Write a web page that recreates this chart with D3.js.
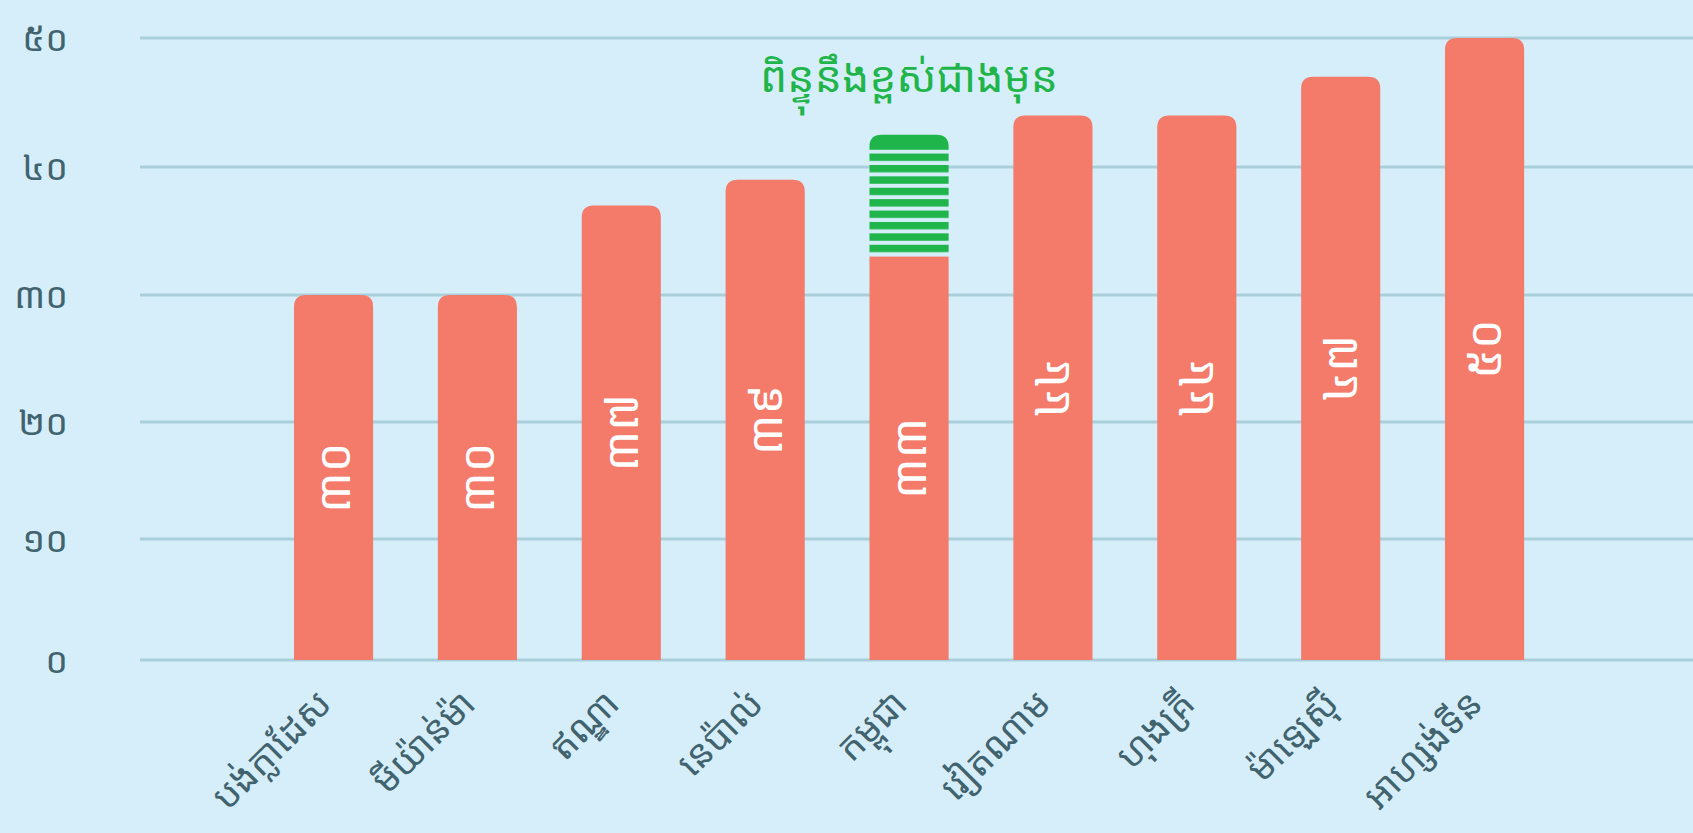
<!DOCTYPE html>
<html>
<head>
<meta charset="utf-8">
<script src="https://cdn.jsdelivr.net/npm/d3@7"></script>
<style>
  body { margin: 0; background: #d6eefa; }
  svg { display: block; }
  text { font-family: "Noto Sans Khmer", "Khmer OS", "Noto Sans", sans-serif; }
</style>
</head>
<body>
<div id="root"></div>
<script>
// data
var categories = ["បង់ក្លាដែស", "មីយ៉ាន់ម៉ា", "ឥណ្ឌា", "នេប៉ាល់", "កម្ពុជា", "វៀតណាម", "ហុងគ្រី", "ម៉ាឡេស៊ី", "អាហ្សង់ទីន"];
var values = [30, 30, 37, 39, 33, 44, 44, 47, 50];
var projected = [null, null, null, null, 42.5, null, null, null, null];
var yTicks = [0, 10, 20, 30, 40, 50];
var note = "ពិន្ទុនឹងខ្ពស់ជាងមុន";

var khmerDigits = "០១២៣៤៥៦៧៨៩";
function khmer(n) {
    return String(n).split("").map(function(c) { return khmerDigits[+c]; }).join("");
}

var W = 1693, H = 833;
var config = {
    "barColor": "#f47a6a",
    "green": "#1fb54a",
    "grid": "#a9cfdb",
    "text": "#41636e",
    "radius": 12
};

var svg = d3.select("#root").append("svg")
    .attr("width", W)
    .attr("height", H);

svg.append("rect").attr("width", W).attr("height", H).attr("fill", "#d6eefa");

// y scale follows the gridline spacing seen in the picture
var y = d3.scaleLinear()
    .domain(yTicks)
    .range([660, 539, 422, 295, 167, 38]);

var x = d3.scaleBand()
    .domain(categories)
    .range([261.6, 1556.5])
    .paddingInner(0.45)
    .paddingOuter(0.225);

// gridlines
svg.append("g").selectAll("line")
    .data(yTicks)
    .enter().append("line")
    .attr("x1", 140).attr("x2", W)
    .attr("y1", function(d) { return y(d); })
    .attr("y2", function(d) { return y(d); })
    .attr("stroke", config.grid)
    .attr("stroke-width", 3);

// y tick labels
svg.append("g").selectAll("text")
    .data(yTicks)
    .enter().append("text")
    .attr("x", 68)
    .attr("y", function(d) { return y(d); })
    .attr("dy", "0.35em")
    .attr("text-anchor", "end")
    .attr("fill", config.text)
    .style("font-size", "36px")
    .text(function(d) { return khmer(d); });

// bar with rounded top corners only
function topRounded(x0, w, yTop, yBot, r) {
    r = Math.min(r, w / 2, yBot - yTop);
    return "M" + x0 + "," + yBot +
        "V" + (yTop + r) +
        "Q" + x0 + "," + yTop + " " + (x0 + r) + "," + yTop +
        "H" + (x0 + w - r) +
        "Q" + (x0 + w) + "," + yTop + " " + (x0 + w) + "," + (yTop + r) +
        "V" + yBot + "Z";
}

var bw = x.bandwidth();
var bars = svg.append("g");
categories.forEach(function(c, i) {
    var x0 = x(c);
    var hasProj = projected[i] != null;
    if (hasProj) {
        bars.append("rect")
            .attr("x", x0).attr("y", y(values[i]))
            .attr("width", bw).attr("height", y(0) - y(values[i]))
            .attr("fill", config.barColor);
    } else {
        bars.append("path")
            .attr("d", topRounded(x0, bw, y(values[i]), y(0), config.radius))
            .attr("fill", config.barColor);
    }
});

// striped "projected" part
var defs = svg.append("defs");
categories.forEach(function(c, i) {
    if (projected[i] == null) return;
    var x0 = x(c);
    var top = y(projected[i]);
    var bot = y(values[i]) - 2;
    var cap = 15;
    var period = 11.4;
    var pat = defs.append("pattern")
        .attr("id", "stripes" + i)
        .attr("patternUnits", "userSpaceOnUse")
        .attr("width", 20).attr("height", period)
        .attr("patternTransform", "translate(0," + (top + cap + 3.8) + ")");
    pat.append("rect").attr("width", 20).attr("height", 7.4).attr("fill", config.green);

    bars.append("rect")
        .attr("x", x0).attr("y", top + cap)
        .attr("width", bw).attr("height", bot - top - cap)
        .attr("fill", "url(#stripes" + i + ")");
    bars.append("path")
        .attr("d", topRounded(x0, bw, top, top + cap, config.radius))
        .attr("fill", config.green);

    svg.append("text")
        .attr("x", x0 + bw / 2)
        .attr("y", 92)
        .attr("text-anchor", "middle")
        .attr("fill", config.green)
        .style("font-size", "43px")
        .text(note);
});

// value labels, rotated inside the bars
svg.append("g").selectAll("text")
    .data(categories)
    .enter().append("text")
    .attr("transform", function(d, i) {
        var cx = x(d) + bw / 2;
        var cy = (y(values[i]) + y(0)) / 2;
        return "translate(" + cx + "," + cy + ") rotate(-90)";
    })
    .attr("text-anchor", "middle")
    .attr("dy", "0.35em")
    .attr("fill", "#fff")
    .style("font-size", "47px")
    .text(function(d, i) { return khmer(values[i]); });

// category labels
svg.append("g").selectAll("text")
    .data(categories)
    .enter().append("text")
    .attr("transform", function(d) {
        return "translate(" + (x(d) + bw / 2) + ",706) rotate(-45)";
    })
    .attr("text-anchor", "end")
    .attr("fill", config.text)
    .style("font-size", "37px")
    .text(function(d) { return d; });
</script>
</body>
</html>
